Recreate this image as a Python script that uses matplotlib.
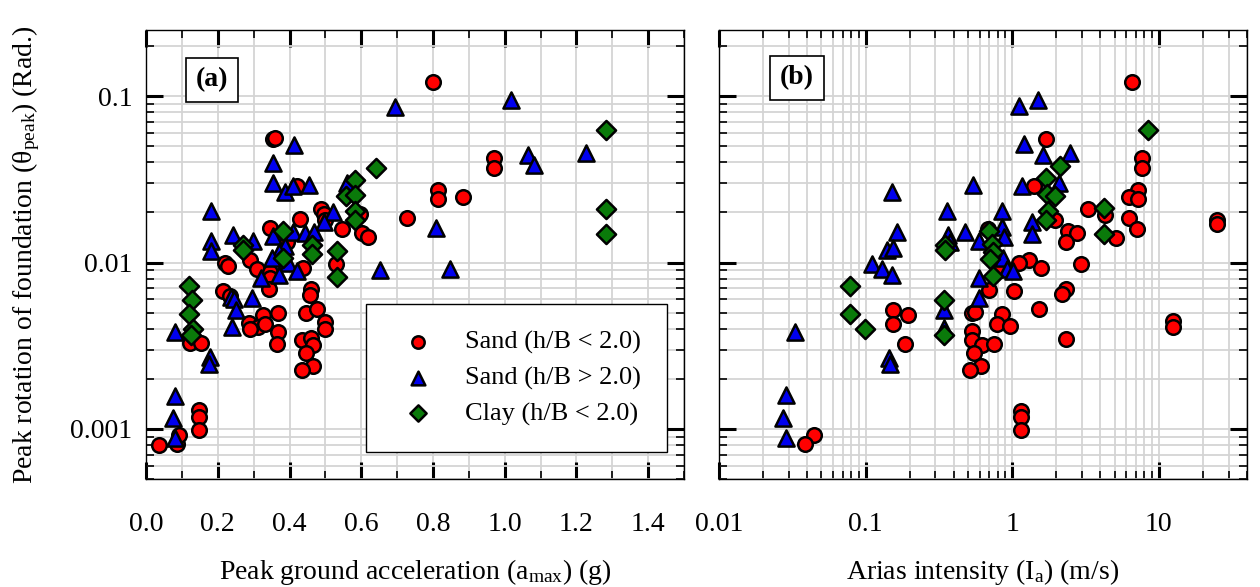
import matplotlib
matplotlib.use('Agg')
import matplotlib.pyplot as plt
from matplotlib.ticker import MultipleLocator, LogLocator, FuncFormatter, NullFormatter

plt.rcParams['font.family'] = ['Liberation Serif', 'DejaVu Serif']
plt.rcParams['mathtext.fontset'] = 'custom'
plt.rcParams['mathtext.rm'] = 'Liberation Serif'
plt.rcParams['mathtext.it'] = 'Liberation Serif:italic'

# ---- panel (a): peak ground acceleration (g) vs peak rotation (rad)
pga_sand_lo = [0.036, 0.086, 0.092, 0.148, 0.148, 0.148, 0.123, 0.153, 0.354, 0.359,
               0.421, 0.487, 0.496, 0.429, 0.345, 0.546, 0.602, 0.618, 0.596, 0.499,
               0.727, 0.813, 0.813, 0.799, 0.393, 0.220, 0.228, 0.290, 0.309, 0.345,
               0.345, 0.437, 0.529, 0.343, 0.214, 0.234, 0.460, 0.457, 0.368, 0.326,
               0.287, 0.312, 0.331, 0.368, 0.446, 0.476, 0.499, 0.499, 0.365, 0.435,
               0.460, 0.465, 0.446, 0.465, 0.435, 0.290, 0.969, 0.969, 0.883]
rot_sand_lo_a = [0.00080, 0.00081, 0.00092, 0.00130, 0.00118, 0.00099, 0.00327, 0.00327, 0.0550, 0.0557,
                 0.0290, 0.0210, 0.0196, 0.0183, 0.0162, 0.0159, 0.0151, 0.0143, 0.0196, 0.0181,
                 0.0186, 0.0274, 0.0242, 0.1216, 0.0133, 0.0100, 0.00953, 0.0104, 0.00914, 0.00877,
                 0.00806, 0.00926, 0.00979, 0.00692, 0.00673, 0.00628, 0.00692, 0.00637, 0.00496, 0.00482,
                 0.00431, 0.00407, 0.00425, 0.00380, 0.00496, 0.00524, 0.00437, 0.00396, 0.00322, 0.00340,
                 0.00350, 0.00318, 0.00284, 0.00240, 0.00227, 0.00396, 0.0422, 0.0372, 0.0249]

pga_sand_hi = [0.694, 1.017, 0.412, 0.354, 0.354, 0.387, 0.409, 0.454, 0.560, 0.181,
               0.521, 0.496, 0.242, 0.298, 0.181, 0.181, 0.354, 0.409, 0.443, 0.468,
               0.387, 0.370, 0.351, 0.396, 0.421, 0.370, 0.320, 0.652, 0.808, 1.064,
               1.081, 1.228, 0.847, 0.237, 0.245, 0.295, 0.251, 0.240, 0.178, 0.175,
               0.081, 0.081, 0.075, 0.081]
rot_sand_hi_a = [0.0859, 0.0946, 0.0506, 0.0394, 0.0302, 0.0267, 0.0290, 0.0294, 0.0302, 0.0205,
                 0.0202, 0.0176, 0.0147, 0.0135, 0.0135, 0.0118, 0.0145, 0.0153, 0.0151, 0.0153,
                 0.0126, 0.0116, 0.0106, 0.00993, 0.00889, 0.00840, 0.00806, 0.00901, 0.0162, 0.0441,
                 0.0388, 0.0453, 0.00914, 0.00619, 0.00602, 0.00611, 0.00517, 0.00407, 0.00269, 0.00247,
                 0.00380, 0.00158, 0.00117, 0.00088]

pga_clay = [0.641, 0.582, 0.557, 0.582, 0.582, 0.582, 0.462, 0.462, 0.532, 0.532,
            0.382, 0.382, 0.270, 0.270, 0.120, 0.128, 0.120, 0.131, 0.125, 1.281,
            1.281, 1.281]
rot_clay_a = [0.0372, 0.0315, 0.0252, 0.0256, 0.0205, 0.0181, 0.0128, 0.0113, 0.0118, 0.00817,
              0.0155, 0.0106, 0.0128, 0.0119, 0.00721, 0.00594, 0.00489, 0.00396, 0.00365, 0.0624,
              0.0210, 0.0149]

# ---- panel (b): Arias intensity (m/s) vs peak rotation (rad)
ia_sand_lo = [6.61, 1.708, 7.74, 7.74, 1.413, 7.26, 6.31, 7.26, 3.30, 4.33,
              6.31, 7.15, 5.14, 25.2, 25.2, 1.967, 2.415, 2.780, 2.339, 0.686,
              1.306, 1.117, 1.578, 2.963, 0.815, 0.697, 1.032, 2.339, 2.197, 1.530,
              12.6, 12.6, 0.533, 0.855, 0.789, 0.968, 0.533, 2.339, 0.195, 0.186,
              0.558, 0.533, 0.624, 0.753, 0.550, 0.614, 0.517, 0.154, 0.154, 0.0444,
              0.0385, 1.152, 1.152, 1.152]
rot_sand_lo_b = [0.1216, 0.0550, 0.0422, 0.0372, 0.0290, 0.0274, 0.0249, 0.0242, 0.0210, 0.0194,
                 0.0186, 0.0159, 0.0141, 0.0181, 0.0171, 0.0181, 0.0155, 0.0151, 0.0133, 0.0159,
                 0.0104, 0.00993, 0.00926, 0.00979, 0.00914, 0.00682, 0.00673, 0.00692, 0.00646, 0.00524,
                 0.00443, 0.00407, 0.00496, 0.00489, 0.00425, 0.00413, 0.00385, 0.00345, 0.00482, 0.00322,
                 0.00503, 0.00340, 0.00318, 0.00322, 0.00284, 0.00240, 0.00227, 0.00517, 0.00425, 0.00092,
                 0.00081, 0.00129, 0.00118, 0.00099]

ia_sand_hi = [0.151, 0.541, 0.360, 0.164, 0.140, 0.154, 0.366, 0.478, 0.594, 0.110,
              0.129, 0.151, 0.594, 0.0329, 0.0285, 0.0272, 0.0285, 0.144, 0.147, 0.594,
              0.343, 0.343, 1.117, 1.506, 1.208, 1.630, 2.490, 1.170, 2.094, 0.855,
              1.370, 1.370, 0.855, 0.881, 0.867, 0.925, 1.016, 0.377]
rot_sand_hi_b = [0.0267, 0.0294, 0.0205, 0.0153, 0.0119, 0.0122, 0.0147, 0.0153, 0.0135, 0.00979,
                 0.00914, 0.00840, 0.00806, 0.00380, 0.00160, 0.00117, 0.00088, 0.00265, 0.00247, 0.00611,
                 0.00517, 0.00402, 0.0871, 0.0946, 0.0513, 0.0441, 0.0453, 0.0290, 0.0302, 0.0205,
                 0.0176, 0.0149, 0.0164, 0.0143, 0.0106, 0.00914, 0.00889, 0.0133]

ia_clay = [0.0782, 0.0782, 0.0989, 0.343, 0.343, 0.348, 0.348, 2.128, 1.708, 1.735,
           1.967, 1.762, 1.708, 0.697, 0.730, 0.741, 0.708, 0.741, 8.51, 4.26,
           4.26]
rot_clay_b = [0.00721, 0.00489, 0.00396, 0.00594, 0.00365, 0.0128, 0.0119, 0.0378, 0.0320, 0.0259,
              0.0252, 0.0205, 0.0181, 0.0155, 0.0129, 0.0116, 0.0105, 0.00829, 0.0624, 0.0213,
              0.0149]

labels = ['Sand (h/B < 2.0)', 'Sand (h/B > 2.0)', 'Clay (h/B < 2.0)']
red, blue, green = '#ff0000', '#0000ee', '#0a7a0a'

fig = plt.figure(figsize=(12.6, 5.87), dpi=100)
ax1 = fig.add_axes([0.1159, 0.184, 0.427, 0.765])
ax2 = fig.add_axes([0.5706, 0.184, 0.419, 0.765])

fs = 20
circ = dict(marker='o', color=red, s=110, edgecolors='black', linewidths=1.8, zorder=3)
tri = dict(marker='^', color=blue, s=135, edgecolors='black', linewidths=1.8, zorder=3)
dia = dict(marker='D', color=green, s=95, edgecolors='black', linewidths=1.8, zorder=3)


def style(ax):
    ax.set_yscale('log')
    ax.set_ylim(5e-4, 0.25)
    ax.yaxis.set_major_locator(LogLocator(base=10, numticks=10))
    ax.yaxis.set_minor_locator(LogLocator(base=10, subs=range(2, 10), numticks=10))
    ax.yaxis.set_major_formatter(FuncFormatter(lambda v, p: '%g' % v))
    ax.yaxis.set_minor_formatter(NullFormatter())
    ax.set_axisbelow(True)
    ax.grid(True, which='both', color='#d4d4d4', lw=1.3)
    ax.tick_params(which='both', direction='in', top=True, right=True, labelsize=fs)
    ax.tick_params(which='major', length=12, width=2.2, pad=24)
    ax.tick_params(which='minor', length=6, width=1.2)
    ax.tick_params(axis='y', which='major', pad=10)
    for sp in ax.spines.values():
        sp.set_linewidth(1.0)


style(ax1)
ax1.set_xlim(0, 1.5)
ax1.xaxis.set_major_locator(MultipleLocator(0.2))
ax1.xaxis.set_minor_locator(MultipleLocator(0.1))
ax1.xaxis.set_major_formatter(FuncFormatter(lambda v, p: '%.1f' % v))
h1 = ax1.scatter(pga_sand_lo, rot_sand_lo_a, **circ)
h2 = ax1.scatter(pga_sand_hi, rot_sand_hi_a, **tri)
h3 = ax1.scatter(pga_clay, rot_clay_a, **dia)
ax1.set_xlabel(r'Peak ground acceleration (a$_\mathrm{max}$) (g)', fontsize=fs, labelpad=14)
ax1.set_ylabel(r'Peak rotation of foundation (θ$_\mathrm{peak}$) (Rad.)', fontsize=fs, labelpad=20)
ax1.text(0.123, 0.889, '(a)', transform=ax1.transAxes, ha='center', va='center',
         fontsize=fs, fontweight='bold',
         bbox=dict(boxstyle='square,pad=0.35', fc='white', ec='black', lw=1.2))
leg = ax1.legend([h1, h2, h3], labels, loc='lower right', bbox_to_anchor=(0.968, 0.06),
                 fontsize=19, markerscale=0.85, frameon=True, fancybox=False, framealpha=1,
                 edgecolor='black', borderpad=1.0, handletextpad=0.75, labelspacing=0.45,
                 borderaxespad=0)
leg.get_frame().set_linewidth(1.0)

style(ax2)
ax2.set_xscale('log')
ax2.set_xlim(0.01, 40)
ax2.xaxis.set_major_locator(LogLocator(base=10, numticks=10))
ax2.xaxis.set_minor_locator(LogLocator(base=10, subs=range(2, 10), numticks=10))
ax2.xaxis.set_major_formatter(FuncFormatter(lambda v, p: '%g' % v))
ax2.xaxis.set_minor_formatter(NullFormatter())
ax2.tick_params(axis='y', labelleft=False)
ax2.scatter(ia_sand_lo, rot_sand_lo_b, **circ)
ax2.scatter(ia_sand_hi, rot_sand_hi_b, **tri)
ax2.scatter(ia_clay, rot_clay_b, **dia)
ax2.set_xlabel(r'Arias intensity (I$_\mathrm{a}$) (m/s)', fontsize=fs, labelpad=14)
ax2.text(0.148, 0.893, '(b)', transform=ax2.transAxes, ha='center', va='center',
         fontsize=fs, fontweight='bold',
         bbox=dict(boxstyle='square,pad=0.35', fc='white', ec='black', lw=1.2))

fig.savefig('out.png', dpi=100)
